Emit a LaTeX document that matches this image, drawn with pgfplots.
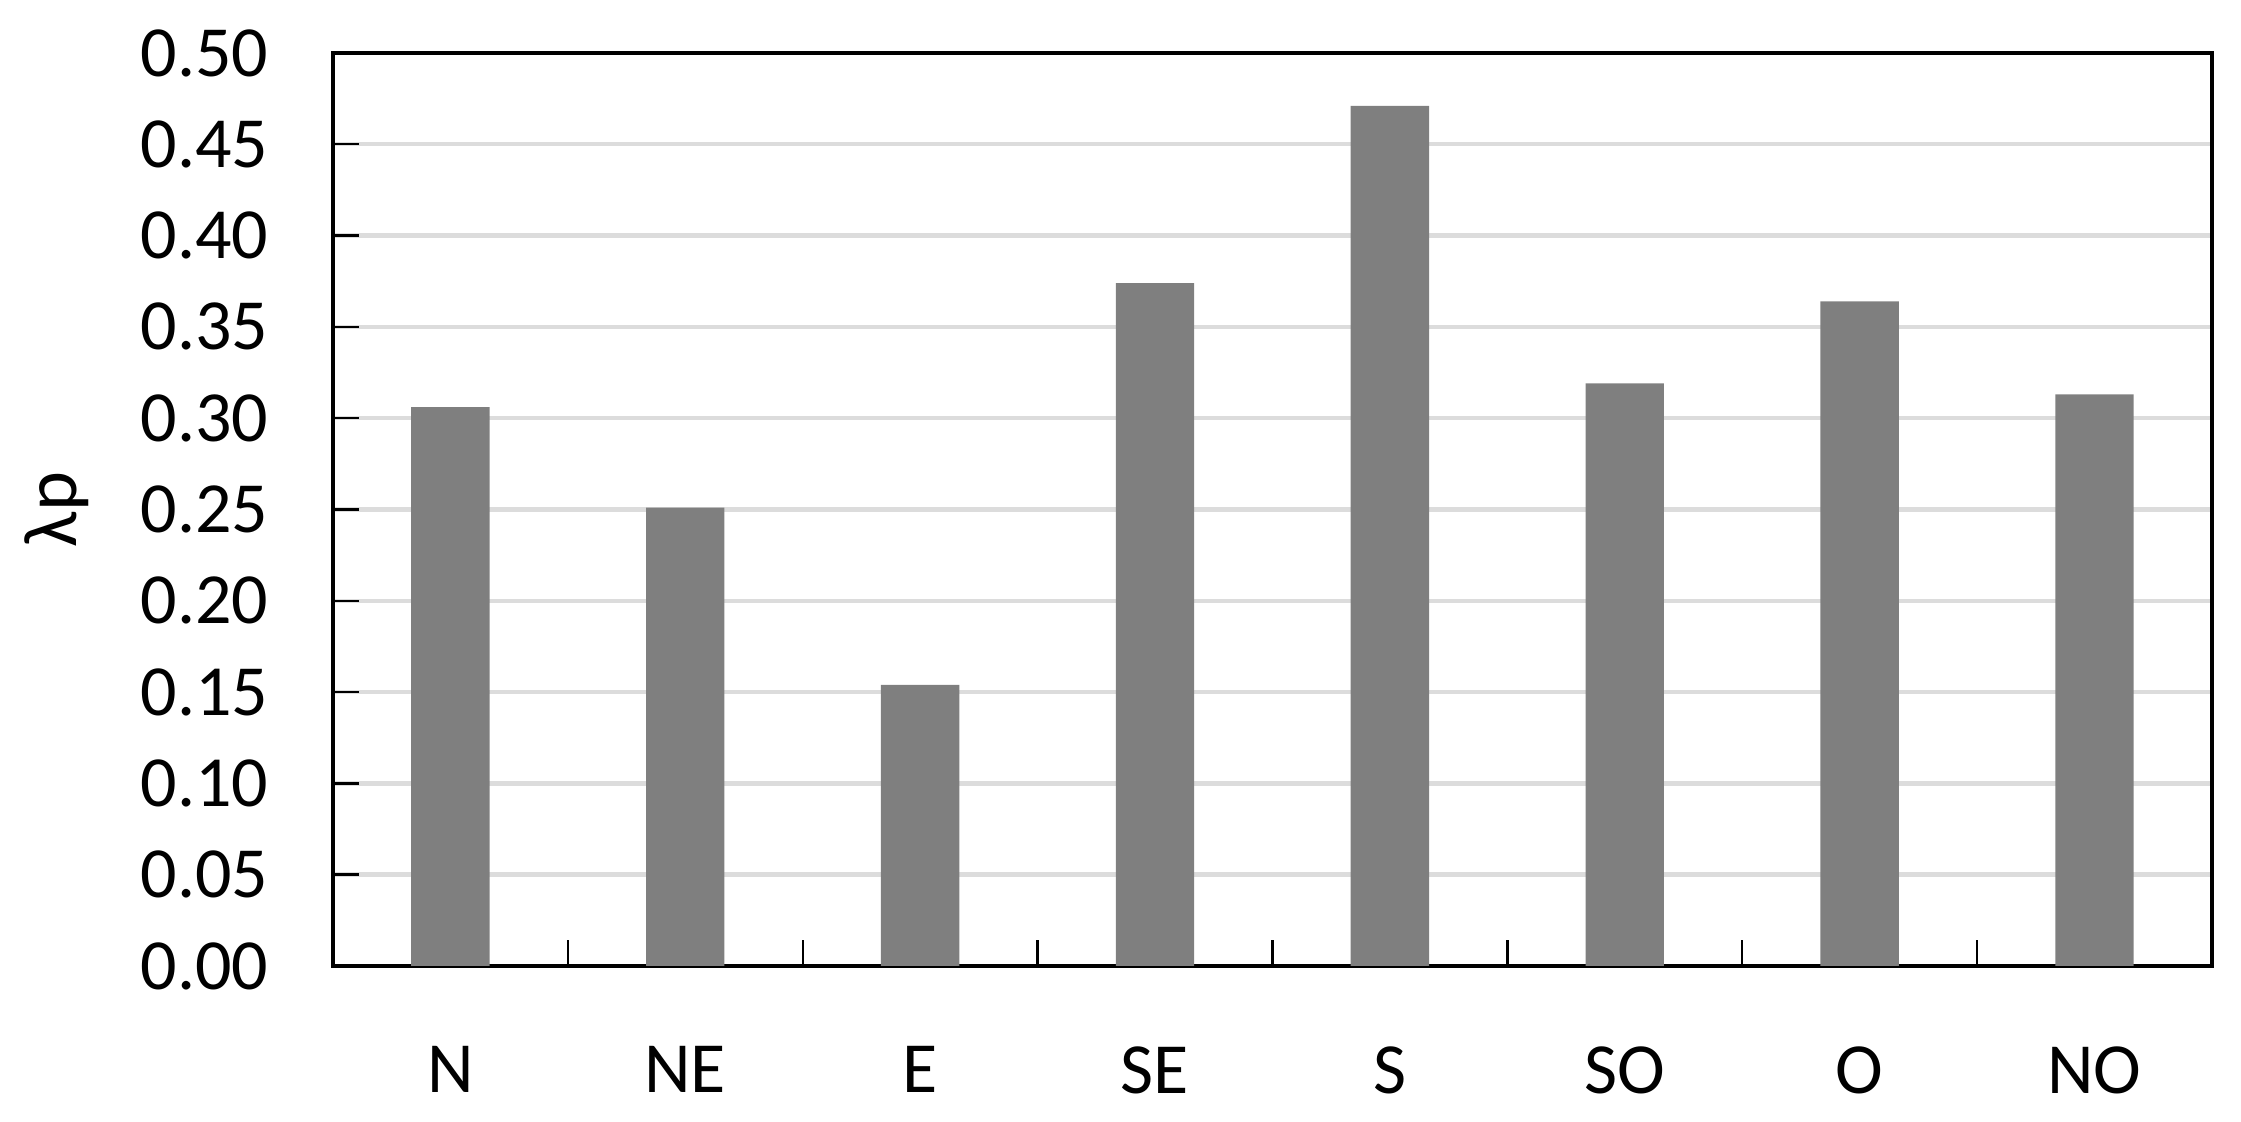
\documentclass[border=0pt]{standalone}
\usepackage{fontspec}
\setmainfont{Carlito}
\usepackage{pgfplots}
\pgfplotsset{compat=1.18}
\definecolor{barc}{HTML}{7F7F7F}
\definecolor{gridc}{HTML}{DCDCDC}
\begin{document}
\fontsize{18pt}{21pt}\selectfont
\begin{tikzpicture}
\path[use as bounding box] (-83.25pt,-39pt) rectangle (477pt,241.5pt);
\begin{axis}[
  at={(0pt,0pt)}, anchor=south west,
  scale only axis, width=469.75pt, height=228.25pt,
  ybar, bar width=19.6pt,
  xmin=-0.5, xmax=7.5, ymin=0, ymax=0.5,
  ytick={0,0.05,...,0.5},
  yticklabel style={xshift=-10pt},
  /pgf/number format/.cd, fixed, fixed zerofill, precision=2, assume math mode=true, /pgfplots/.cd,
  xtick={0.5,1.5,...,6.5}, xticklabels={},
  extra x ticks={0,1,2,3,4,5,6,7},
  extra x tick labels={N,NE,E,SE,S,SO,O,NO},
  extra x tick style={major tick length=0pt, grid=none, xticklabel style={yshift=-14pt}},
  tick align=inside, xtick align=inside, major tick length=6.5pt,
  xtick pos=left, ytick pos=left,
  tick style={black, line width=0.6pt},
  axis line style={black, line width=0.9pt},
  ymajorgrids, grid style={gridc, line width=1.1pt},
  ylabel={λp},
  ylabel style={at={(axis description cs:-0.147,0.5)}, anchor=center, font=\fontsize{19pt}{22pt}\selectfont},
]
\addplot[fill=barc, draw=none] coordinates {(0,0.306) (1,0.251) (2,0.154) (3,0.374) (4,0.471) (5,0.319) (6,0.364) (7,0.313)};
\end{axis}
\end{tikzpicture}
\end{document}
